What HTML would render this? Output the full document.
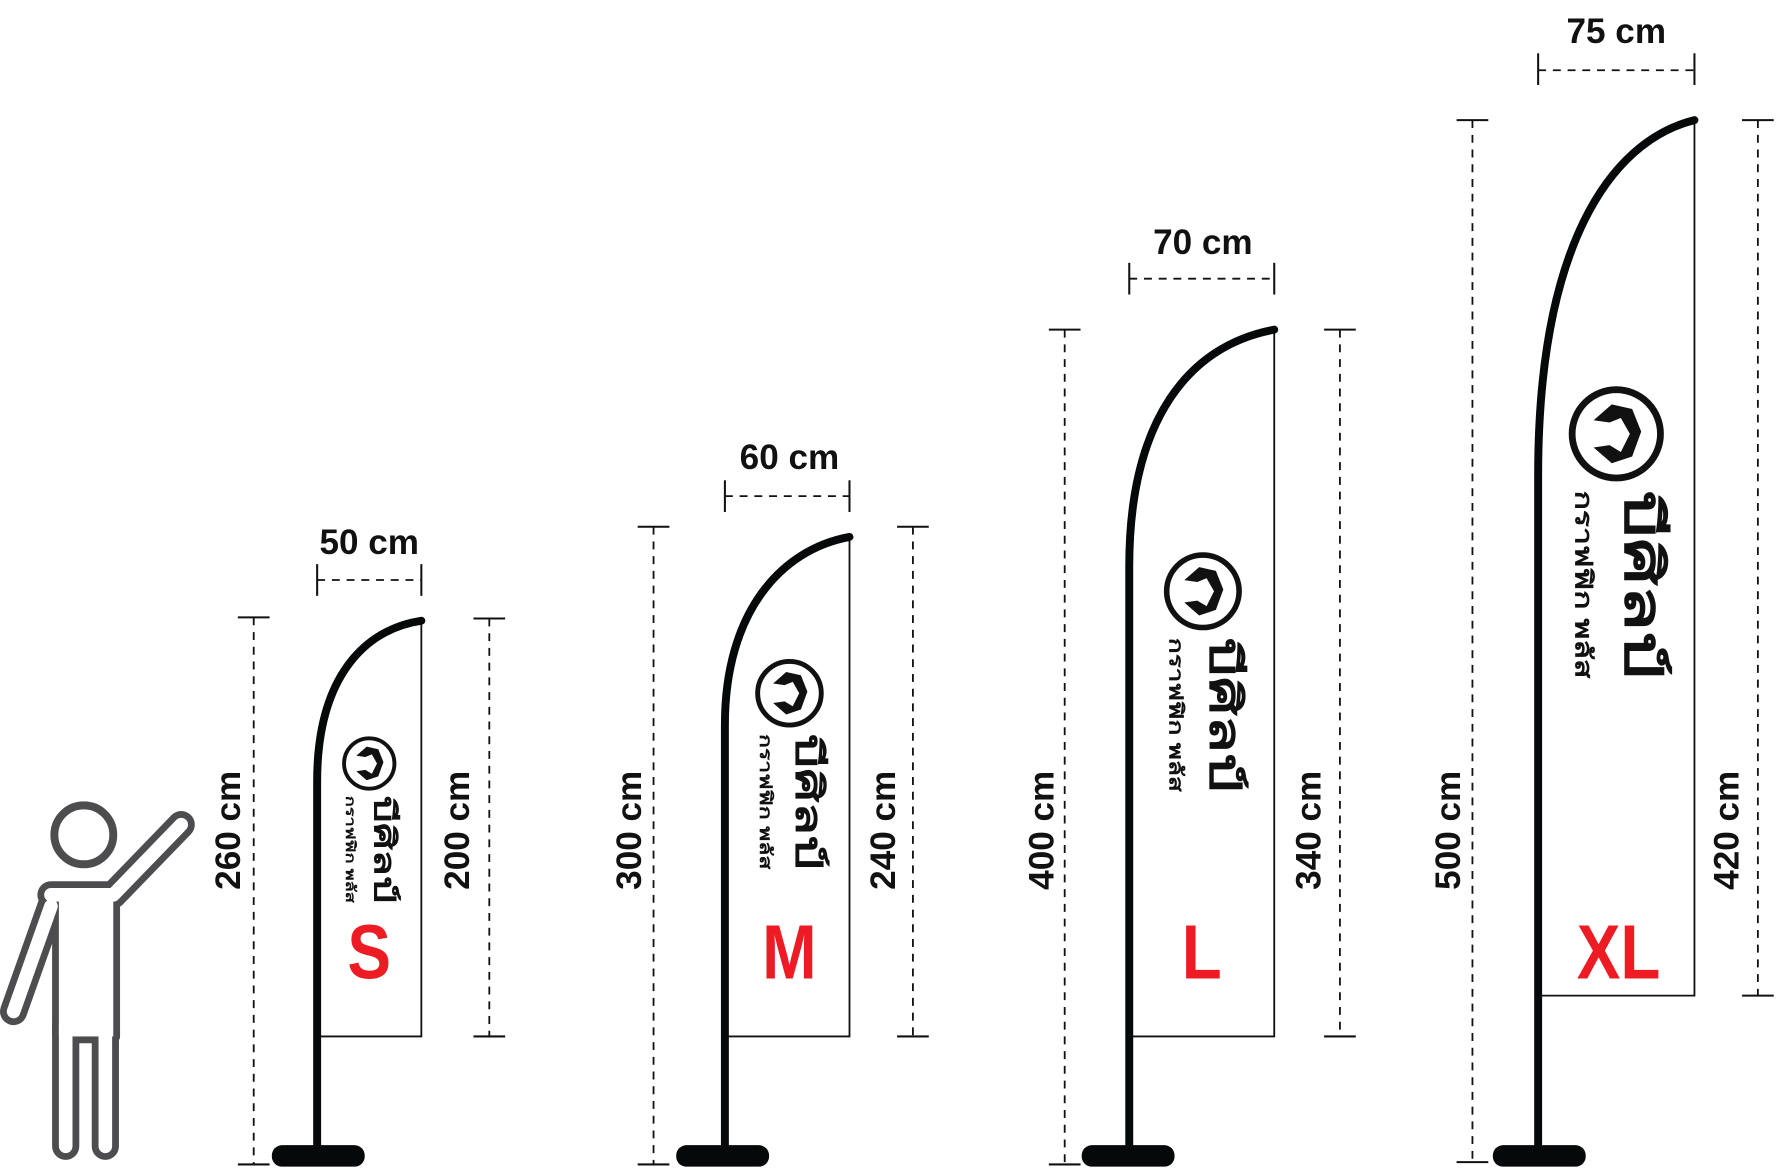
<!DOCTYPE html>
<html><head><meta charset="utf-8"><style>
html,body{margin:0;padding:0;background:#fff;width:1776px;height:1169px;overflow:hidden}
svg{display:block}
.dim{stroke:#111;stroke-width:1.6;stroke-dasharray:7 6;fill:none}
.tk{stroke:#111;stroke-width:1.8}
.lab{font-family:"Liberation Sans",sans-serif;font-weight:bold;font-size:31px;fill:#111}
.sz{font-family:"Liberation Sans Narrow","Liberation Sans",sans-serif;font-weight:bold;font-size:68px;fill:#ed1c24}
.pole{stroke:#060909;stroke-width:7;fill:none;stroke-linecap:round}
.fab{stroke:#111;stroke-width:1.6;fill:none}
.th1{font-family:"Liberation Sans","Noto Sans CJK SC",sans-serif;font-weight:bold;font-size:46px;fill:#111}
.th2{font-family:"Liberation Sans","Noto Sans CJK SC",sans-serif;font-weight:bold;font-size:21px;fill:#111}
</style></head><body>
<svg width="1776" height="1169" viewBox="0 0 1568 1032" xmlns="http://www.w3.org/2000/svg">
<defs>
<g id="logo">
<circle cx="0" cy="0" r="39" fill="none" stroke="#111" stroke-width="6"/>
<path d="M-20,-12 L-4,-26 L14,-22 L22,-2 L14,20 L-4,26 L-20,12 L-6,10 L4,16 L12,0 L4,-14 L-6,-10 Z" fill="#111"/>
<text class="th1" transform="translate(8,50) rotate(90)" textLength="166" lengthAdjust="spacingAndGlyphs">บีศิลป์</text>
<text class="th2" transform="translate(-36,50) rotate(90)" textLength="166" lengthAdjust="spacingAndGlyphs">กราฟฟิก พลัส</text>
</g>
</defs>

<!-- person -->
<g stroke-linecap="round" stroke-linejoin="round">
<g stroke="#4d4d4f" fill="#4d4d4f">
<path d="M100,790 L160,728 M45,800 L12,893 M58,905 L58,1012 M93,905 L93,1012 M45,790 L100,790" stroke-width="24" fill="none"/>
<rect x="52" y="790" width="48" height="125" stroke-width="12"/>
</g>
<g stroke="#fff" fill="#fff">
<path d="M100,790 L160,728 M45,800 L12,893 M58,905 L58,1012 M93,905 L93,1012 M45,790 L100,790" stroke-width="12" fill="none"/>
<rect x="52" y="790" width="48" height="125" stroke="none"/>
</g>
<circle cx="74" cy="737" r="26" stroke="#4d4d4f" stroke-width="7" fill="#fff"/>
</g>

<!-- S -->
<line class="dim" x1="224" y1="545" x2="224" y2="1028"/><line class="tk" x1="210" y1="545" x2="238" y2="545"/><line class="tk" x1="210" y1="1028" x2="238" y2="1028"/>
<line class="dim" x1="432" y1="546" x2="432" y2="915"/><line class="tk" x1="418" y1="546" x2="446" y2="546"/><line class="tk" x1="418" y1="915" x2="446" y2="915"/>
<line class="dim" x1="280" y1="512" x2="372" y2="512"/><line class="tk" x1="280" y1="498" x2="280" y2="526"/><line class="tk" x1="372" y1="498" x2="372" y2="526"/>
<text class="lab" x="326" y="489" text-anchor="middle">50 cm</text>
<text class="lab" transform="translate(212,733) rotate(-90)" text-anchor="middle">260 cm</text>
<text class="lab" transform="translate(414,733) rotate(-90)" text-anchor="middle">200 cm</text>
<path class="fab" d="M372,548 L372,915 L280,915"/>
<path class="pole" d="M280,1015 L280,690 C280,600 320,556 372,548"/>
<rect x="240" y="1011" width="82" height="19" rx="9" fill="#060909"/>
<use href="#logo" transform="translate(326,674) scale(0.57)"/>
<text class="sz" x="326" y="864" text-anchor="middle" transform="translate(326,0) scale(0.85,1) translate(-326,0)">S</text>

<!-- M -->
<line class="dim" x1="577" y1="465" x2="577" y2="1028"/><line class="tk" x1="563" y1="465" x2="591" y2="465"/><line class="tk" x1="563" y1="1028" x2="591" y2="1028"/>
<line class="dim" x1="806" y1="465" x2="806" y2="915"/><line class="tk" x1="792" y1="465" x2="820" y2="465"/><line class="tk" x1="792" y1="915" x2="820" y2="915"/>
<line class="dim" x1="640" y1="438" x2="750" y2="438"/><line class="tk" x1="640" y1="424" x2="640" y2="452"/><line class="tk" x1="750" y1="424" x2="750" y2="452"/>
<text class="lab" x="697" y="414" text-anchor="middle">60 cm</text>
<text class="lab" transform="translate(566,733) rotate(-90)" text-anchor="middle">300 cm</text>
<text class="lab" transform="translate(790,733) rotate(-90)" text-anchor="middle">240 cm</text>
<path class="fab" d="M750,473 L750,915 L640,915"/>
<path class="pole" d="M640,1015 L640,640 C640,540 690,485 750,474"/>
<rect x="597" y="1011" width="82" height="19" rx="9" fill="#060909"/>
<use href="#logo" transform="translate(697,612) scale(0.72)"/>
<text class="sz" x="697" y="864" text-anchor="middle" transform="translate(697,0) scale(0.85,1) translate(-697,0)">M</text>

<!-- L -->
<line class="dim" x1="940" y1="291" x2="940" y2="1028"/><line class="tk" x1="926" y1="291" x2="954" y2="291"/><line class="tk" x1="926" y1="1028" x2="954" y2="1028"/>
<line class="dim" x1="1183" y1="291" x2="1183" y2="915"/><line class="tk" x1="1169" y1="291" x2="1197" y2="291"/><line class="tk" x1="1169" y1="915" x2="1197" y2="915"/>
<line class="dim" x1="997" y1="246" x2="1125" y2="246"/><line class="tk" x1="997" y1="232" x2="997" y2="260"/><line class="tk" x1="1125" y1="232" x2="1125" y2="260"/>
<text class="lab" x="1062" y="224" text-anchor="middle">70 cm</text>
<text class="lab" transform="translate(930,733) rotate(-90)" text-anchor="middle">400 cm</text>
<text class="lab" transform="translate(1166,733) rotate(-90)" text-anchor="middle">340 cm</text>
<path class="fab" d="M1125,291 L1125,915 L997,915"/>
<path class="pole" d="M997,1015 L997,500 C997,370 1050,305 1125,291"/>
<rect x="955" y="1011" width="82" height="19" rx="9" fill="#060909"/>
<use href="#logo" transform="translate(1062,522) scale(0.82)"/>
<text class="sz" x="1061" y="864" text-anchor="middle" transform="translate(1061,0) scale(0.85,1) translate(-1061,0)">L</text>

<!-- XL -->
<line class="dim" x1="1300" y1="106" x2="1300" y2="1026"/><line class="tk" x1="1286" y1="106" x2="1314" y2="106"/><line class="tk" x1="1286" y1="1026" x2="1314" y2="1026"/>
<line class="dim" x1="1552" y1="106" x2="1552" y2="879"/><line class="tk" x1="1538" y1="106" x2="1566" y2="106"/><line class="tk" x1="1538" y1="879" x2="1566" y2="879"/>
<line class="dim" x1="1358" y1="62" x2="1496" y2="62"/><line class="tk" x1="1358" y1="47" x2="1358" y2="75"/><line class="tk" x1="1496" y1="47" x2="1496" y2="75"/>
<text class="lab" x="1427" y="38" text-anchor="middle">75 cm</text>
<text class="lab" transform="translate(1289,733) rotate(-90)" text-anchor="middle">500 cm</text>
<text class="lab" transform="translate(1535,733) rotate(-90)" text-anchor="middle">420 cm</text>
<path class="fab" d="M1496,106 L1496,879 L1358,879"/>
<path class="pole" d="M1358,1015 L1358,420 C1358,220 1420,125 1496,106"/>
<rect x="1318" y="1011" width="82" height="19" rx="9" fill="#060909"/>
<use href="#logo" transform="translate(1427,383)"/>
<text class="sz" x="1429" y="864" text-anchor="middle" transform="translate(1429,0) scale(0.85,1) translate(-1429,0)">XL</text>
</svg>
</body></html>
